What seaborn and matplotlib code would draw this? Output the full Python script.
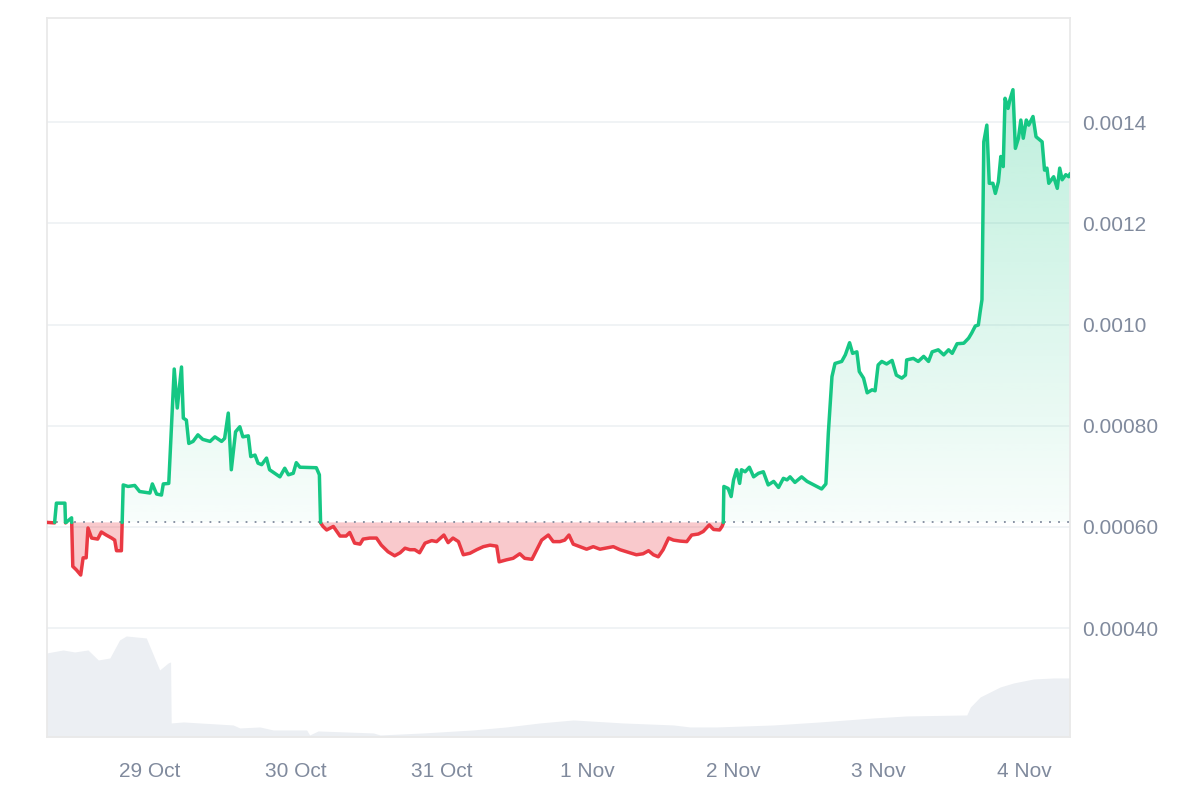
import numpy as np, pandas as pd
import matplotlib; matplotlib.use("Agg")
import matplotlib.pyplot as plt
from matplotlib.path import Path
import seaborn as sns

# hours since 28 Oct 07:00 and price (USD)
START = pd.Timestamp("2024-10-28 07:00")
HOURS = [0.0, 1.3, 1.6, 3.0, 3.1, 4.1, 4.3, 4.9, 5.6, 6.0, 6.5, 6.8, 7.4, 8.4, 9.0, 9.8, 10.7, 11.2, 11.5, 12.3,
         12.6, 13.4, 14.5, 15.3, 17.0, 17.4, 18.1, 18.9, 19.2, 20.1, 21.0, 21.5, 22.2, 22.5, 23.0, 23.4, 24.1,
         24.9, 25.7, 26.9, 27.7, 28.8, 29.3, 29.9, 30.4, 31.1, 31.8, 32.3, 33.2, 33.6, 34.3, 34.8, 35.4, 36.2,
         36.7, 38.4, 39.2, 39.8, 40.6, 41.1, 41.7, 44.4, 44.9, 45.1,
         45.5, 46.1, 47.2, 48.3, 49.3, 49.9, 50.7, 51.6, 52.1, 53.2, 54.3, 55.1, 56.2, 57.3, 58.2, 59.0, 59.8,
         60.6, 61.4, 62.3, 63.4, 64.2, 65.4, 66.1, 66.9, 67.8, 68.6, 69.7, 70.8, 71.9, 73.0, 74.1, 74.5, 75.7,
         76.8, 77.9, 78.7, 79.9, 80.7, 81.5, 82.6, 83.4, 84.5, 85.3, 86.0, 86.7, 87.8, 88.9, 90.0, 91.1, 93.3,
         94.4, 96.0, 97.1, 98.2, 99.1, 99.9, 100.7, 101.5, 102.4, 103.2, 104.3, 105.4, 106.2, 107.3, 108.1,
         109.1, 109.8, 110.8, 111.2, 111.4,
         111.5, 112.2, 112.7, 113.1, 113.6, 114.1, 114.4, 115.0, 115.7, 116.4, 117.2, 118.0, 118.8, 119.7,
         120.5, 121.3, 121.9, 122.4, 123.2, 124.3, 125.2, 126.0, 126.8, 127.6, 128.3, 128.7, 129.3, 129.8,
         130.9, 131.5, 132.2, 132.7, 133.4, 133.8, 134.5, 135.1, 135.9, 136.4, 136.9, 137.5, 138.3, 139.2,
         139.9, 140.8, 141.4, 141.6, 142.7, 143.5, 144.4, 145.2, 145.8, 146.8, 147.7, 148.5, 149.1, 149.9,
         151.0, 151.8, 152.3, 152.9, 153.4, 153.7, 154.0, 154.3, 154.8, 155.2, 155.8, 156.2, 156.7, 157.1,
         157.5, 157.8, 158.3, 158.6, 159.1, 159.5, 160.0, 160.4, 160.8, 161.3, 161.7, 162.4, 162.9, 163.5,
         163.9, 164.3, 164.7, 165.0, 165.8, 166.4, 166.8, 167.2, 167.8, 168.3, 168.5]
PRICE = [6.09e-4, 6.08e-4, 6.47e-4, 6.47e-4, 6.08e-4, 6.18e-4, 5.22e-4, 5.15e-4, 5.05e-4, 5.39e-4, 5.39e-4,
         5.98e-4, 5.78e-4, 5.76e-4, 5.90e-4, 5.84e-4, 5.78e-4, 5.74e-4, 5.53e-4, 5.53e-4,
         6.83e-4, 6.80e-4, 6.82e-4, 6.70e-4, 6.67e-4, 6.85e-4, 6.65e-4, 6.63e-4, 6.85e-4, 6.86e-4, 9.12e-4,
         8.35e-4, 9.16e-4, 8.15e-4, 8.11e-4, 7.65e-4, 7.69e-4, 7.82e-4, 7.73e-4, 7.69e-4, 7.78e-4, 7.69e-4,
         7.75e-4, 8.25e-4, 7.13e-4, 7.88e-4, 7.98e-4, 7.78e-4, 7.80e-4, 7.39e-4, 7.42e-4, 7.26e-4, 7.23e-4,
         7.36e-4, 7.13e-4, 6.99e-4, 7.16e-4, 7.03e-4, 7.06e-4, 7.27e-4, 7.18e-4, 7.17e-4, 7.03e-4, 6.08e-4,
         6.01e-4, 5.94e-4, 6.01e-4, 5.82e-4, 5.82e-4, 5.89e-4, 5.68e-4, 5.66e-4, 5.76e-4, 5.78e-4, 5.78e-4,
         5.64e-4, 5.51e-4, 5.43e-4, 5.49e-4, 5.58e-4, 5.55e-4, 5.55e-4, 5.49e-4, 5.68e-4, 5.73e-4, 5.71e-4,
         5.84e-4, 5.69e-4, 5.78e-4, 5.71e-4, 5.45e-4, 5.48e-4, 5.55e-4, 5.61e-4, 5.64e-4, 5.62e-4, 5.31e-4,
         5.35e-4, 5.38e-4, 5.47e-4, 5.38e-4, 5.36e-4, 5.55e-4, 5.74e-4, 5.84e-4, 5.71e-4, 5.71e-4, 5.74e-4,
         5.84e-4, 5.66e-4, 5.61e-4, 5.56e-4, 5.61e-4, 5.56e-4, 5.61e-4, 5.55e-4, 5.49e-4, 5.45e-4, 5.47e-4,
         5.53e-4, 5.45e-4, 5.41e-4, 5.55e-4, 5.78e-4, 5.74e-4, 5.72e-4, 5.71e-4, 5.84e-4, 5.86e-4, 5.91e-4,
         6.04e-4, 5.95e-4, 5.94e-4, 6.01e-4, 6.07e-4,
         6.80e-4, 6.76e-4, 6.60e-4, 6.93e-4, 7.13e-4, 6.86e-4, 7.13e-4, 7.09e-4, 7.18e-4, 6.99e-4, 7.06e-4,
         7.09e-4, 6.83e-4, 6.90e-4, 6.78e-4, 6.96e-4, 6.93e-4, 6.99e-4, 6.88e-4, 6.99e-4, 6.90e-4, 6.85e-4,
         6.80e-4, 6.75e-4, 6.85e-4, 7.85e-4, 8.97e-4, 9.23e-4, 9.27e-4, 9.40e-4, 9.64e-4, 9.43e-4, 9.46e-4,
         9.07e-4, 8.94e-4, 8.65e-4, 8.71e-4, 8.69e-4, 9.20e-4, 9.27e-4, 9.22e-4, 9.29e-4, 9.00e-4, 8.94e-4,
         9.00e-4, 9.30e-4, 9.33e-4, 9.27e-4, 9.37e-4, 9.27e-4, 9.46e-4, 9.50e-4, 9.40e-4, 9.50e-4, 9.43e-4,
         9.62e-4, 9.63e-4, 9.73e-4, 9.83e-4, 9.97e-4, 9.99e-4, 10.25e-4, 10.49e-4, 13.61e-4, 13.94e-4,
         12.79e-4, 12.79e-4, 12.59e-4, 12.82e-4, 13.32e-4, 13.12e-4, 14.47e-4, 14.27e-4, 14.44e-4, 14.64e-4,
         13.48e-4, 13.68e-4, 14.04e-4, 13.68e-4, 14.04e-4, 13.94e-4, 14.11e-4, 13.71e-4, 13.65e-4, 13.61e-4,
         13.05e-4, 13.09e-4, 12.79e-4, 12.92e-4, 12.69e-4, 13.09e-4, 12.86e-4, 12.96e-4, 12.92e-4, 12.98e-4]
BASE = 6.09e-4  # opening price of the period

# volume (arbitrary units), hours since start
VOL_HOURS = [0.0, 2.7, 4.6, 6.8, 8.5, 10.4, 12.0, 13.1, 16.4, 18.6, 20.0, 20.4, 20.5, 22.5, 30.7, 31.8,
             35.1, 37.3, 42.8, 43.3, 44.7, 53.8, 54.9, 62.0, 70.2, 75.7, 81.2, 86.7, 94.9, 103.2, 105.9,
             110.3, 119.7, 127.3, 136.1, 141.6, 151.5, 152.1, 153.7, 157.0, 159.2, 162.5, 165.8, 168.5]
VOLUME = [84, 87, 85, 87, 77, 79, 97, 101, 99, 67, 74, 75, 14, 15, 12, 9, 10, 7, 7, 2, 6, 4, 2, 4, 7, 10,
          14, 17, 14, 12, 10, 10, 12, 15, 19, 21, 22, 30, 40, 50, 54, 58, 59, 59]

YTICKS = [4e-4, 6e-4, 8e-4, 10e-4, 12e-4, 14e-4]
YLABELS = ["0.00040", "0.00060", "0.00080", "0.0010", "0.0012", "0.0014"]
XDATES = ["2024-10-29", "2024-10-30", "2024-10-31", "2024-11-01", "2024-11-02", "2024-11-03", "2024-11-04"]
XLABELS = ["29 Oct", "30 Oct", "31 Oct", "1 Nov", "2 Nov", "3 Nov", "4 Nov"]

GREEN, RED, GREY = "#16c784", "#ea3943", "#808a9d"
XMAX, YMIN, YMAX = 168.5, 1.85e-4, 16.05e-4

sns.set_theme(style="white")
plt.rcParams['font.family'] = ['Liberation Sans', 'DejaVu Sans']

# insert crossing points where the price passes the baseline
h, p = np.array(HOURS), np.array(PRICE)
xs, ys = [h[0]], [p[0]]
for i in range(1, len(p)):
    a, b = p[i-1] - BASE, p[i] - BASE
    if a * b < 0:
        f = a / (a - b)
        xs.append(h[i-1] + f * (h[i] - h[i-1])); ys.append(BASE)
    xs.append(h[i]); ys.append(p[i])
xs, ys = np.array(xs), np.array(ys)

segs = [[]]
for x, y in zip(xs, ys):
    segs[-1].append((x, y))
    if y == BASE and len(segs[-1]) > 1:
        segs.append([(x, y)])
rows = []
for k, s in enumerate(segs):
    if len(s) < 2:
        continue
    side = 'up' if np.mean([v for _, v in s]) >= BASE else 'down'
    rows += [dict(hour=x, price=y, side=side, seg=k) for x, y in s]
line_df = pd.DataFrame(rows)

fig = plt.figure(figsize=(12, 8), dpi=100)
ax = fig.add_axes([0.0389, 0.0788, 0.8528, 0.8983])
vax = ax.twinx()
vax.set_zorder(0); ax.set_zorder(1); ax.patch.set_visible(False)

# volume
vol_df = pd.DataFrame(dict(hour=VOL_HOURS, vol=VOLUME))
vax.fill_between(vol_df.hour, vol_df.vol, 0, color="#eceff3", lw=0)
vax.set_ylim(0, 718.7)
vax.set_yticks([]); vax.set_xlim(0, XMAX)
for s in vax.spines.values():
    s.set_visible(False)

# grid
for yv in YTICKS:
    ax.axhline(yv, color="#eff2f5", lw=1.3, zorder=0)

# fills
up = ax.fill_between(xs, ys, BASE, where=ys >= BASE, facecolor='none', edgecolor='none')
clip = Path.make_compound_path(*up.get_paths())
grad = np.zeros((256, 1, 4))
grad[..., :3] = matplotlib.colors.to_rgb(GREEN)
grad[:, 0, 3] = np.linspace(0.03, 0.28, 256)
im = ax.imshow(grad, extent=[0, XMAX, BASE, ys.max()], origin='lower', aspect='auto', zorder=1,
               interpolation='bilinear')
im.set_clip_path(clip, transform=ax.transData)
ax.fill_between(xs, ys, BASE, where=ys <= BASE, color=RED, alpha=0.27, lw=0, zorder=1)

ax.axhline(BASE, color=GREY, lw=1.3, ls=(0, (1, 4)), zorder=2)

sns.lineplot(data=line_df, x='hour', y='price', hue='side', units='seg', estimator=None, sort=False,
             palette={'up': GREEN, 'down': RED}, legend=False, lw=2.5, ax=ax, zorder=3)

ax.set_xlim(0, XMAX); ax.set_ylim(YMIN, YMAX)
ax.yaxis.tick_right()
ax.set_yticks(YTICKS); ax.set_yticklabels(YLABELS)
ax.set_xticks([(pd.Timestamp(d) - START) / pd.Timedelta(hours=1) for d in XDATES])
ax.set_xticklabels(XLABELS)
ax.tick_params(axis='y', length=0, pad=9, labelsize=15, labelcolor=GREY)
ax.tick_params(axis='x', length=0, pad=18, labelsize=15, labelcolor=GREY)
ax.set_xlabel(''); ax.set_ylabel('')
for s in ax.spines.values():
    s.set_color("#e9e9e9"); s.set_linewidth(1.3)

fig.savefig("out.png", dpi=100)
